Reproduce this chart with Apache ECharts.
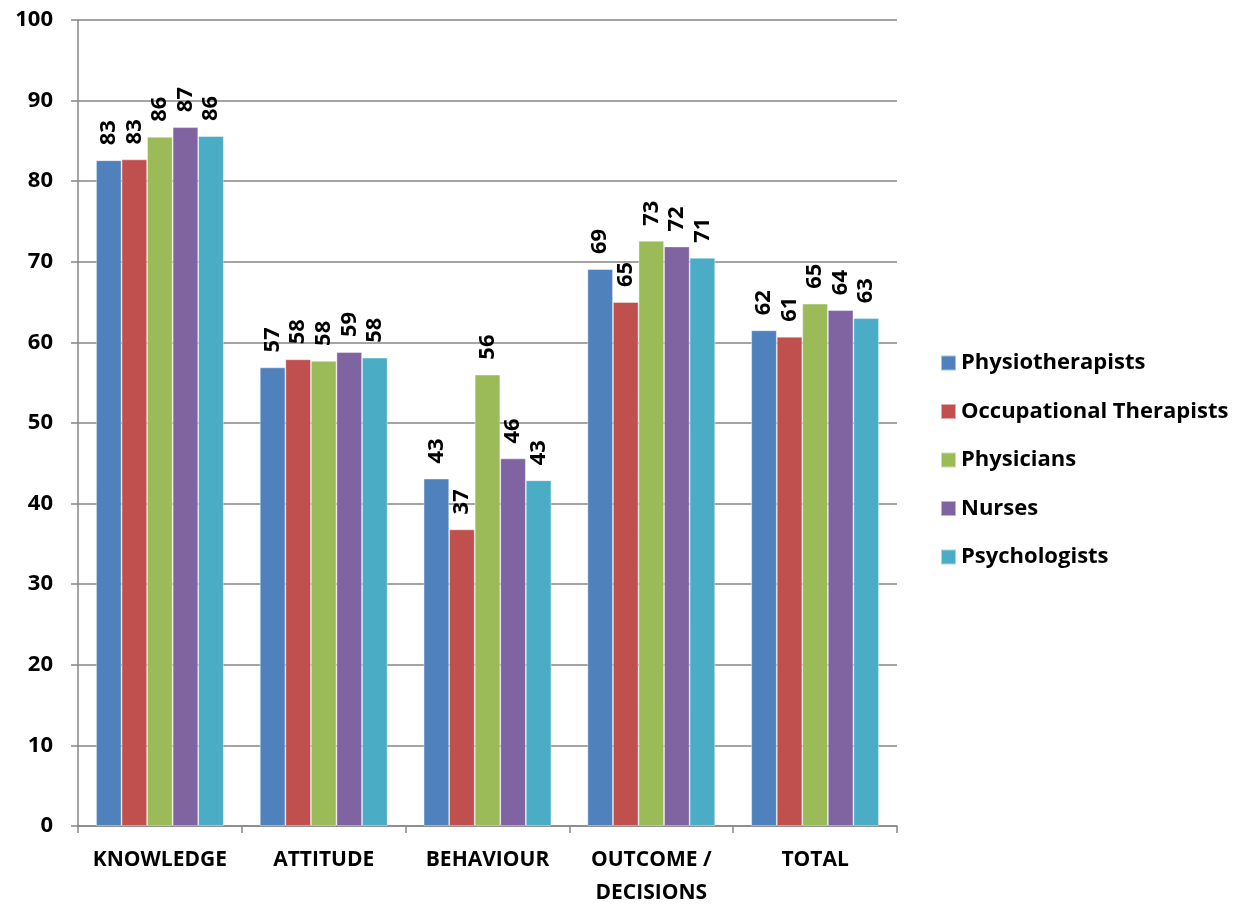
<!DOCTYPE html>
<html>
<head>
<meta charset="utf-8">
<script src="https://cdn.jsdelivr.net/npm/echarts@6/dist/echarts.min.js"></script>
<style>html,body{margin:0;padding:0;background:#fff}#c{width:1233px;height:905px}</style>
</head>
<body>
<div id="c"></div>
<script>
var categories = ['KNOWLEDGE', 'ATTITUDE', 'BEHAVIOUR', 'OUTCOME /\nDECISIONS', 'TOTAL'];
var seriesNames = ['Physiotherapists', 'Occupational Therapists', 'Physicians', 'Nurses', 'Psychologists'];
var physiotherapists = [82.6, 56.9, 43.1, 69.1, 61.5];
var occupationalTherapists = [82.7, 57.9, 36.8, 65.0, 60.7];
var physicians = [85.5, 57.7, 56.0, 72.6, 64.8];
var nurses = [86.7, 58.8, 45.6, 71.9, 64.0];
var psychologists = [85.6, 58.1, 42.9, 70.5, 63.0];
var yTicks = [0, 10, 20, 30, 40, 50, 60, 70, 80, 90, 100];
var colors = ['#4F81BD', '#C0504D', '#9BBB59', '#8064A2', '#4BACC6'];

var allData = [physiotherapists, occupationalTherapists, physicians, nurses, psychologists];
var FONT = 'Open Sans';
var chart = echarts.init(document.getElementById('c'));
chart.setOption({
  animation: false,
  textStyle: { fontFamily: FONT },
  grid: { left: 78, right: 336, top: 20, bottom: 79, containLabel: false, outerBoundsMode: 'none' },
  legend: {
    orient: 'vertical', left: 940, top: 352, padding: 0,
    itemWidth: 15, itemHeight: 15, itemGap: 26.5,
    icon: 'rect',
    textStyle: { fontSize: 22, fontWeight: 'bold', color: '#000', fontFamily: FONT },
    data: seriesNames
  },
  xAxis: {
    type: 'category', data: categories,
    axisLine: { lineStyle: { color: '#868686', width: 1.5 } },
    axisTick: { show: true, length: 7, lineStyle: { color: '#868686', width: 1.5 } },
    axisLabel: { interval: 0, fontSize: 21, fontWeight: 'bold', color: '#000', margin: 18, lineHeight: 33, fontFamily: FONT }
  },
  yAxis: {
    type: 'value', min: yTicks[0], max: yTicks[yTicks.length - 1], interval: 10,
    axisLine: { show: true, lineStyle: { color: '#868686', width: 1.5 } },
    axisTick: { show: true, length: 7, lineStyle: { color: '#868686', width: 1.5 } },
    splitLine: { lineStyle: { color: '#868686', width: 1.5 } },
    axisLabel: { fontSize: 22, fontWeight: 'bold', color: '#000', margin: 25, fontFamily: FONT }
  },
  series: seriesNames.map(function (n, i) {
    return {
      name: n, type: 'bar', data: allData[i],
      barGap: '0%', barCategoryGap: '22%',
      itemStyle: { color: colors[i], borderColor: 'rgba(255,255,255,0.5)', borderWidth: 0.8 },
      label: {
        show: true, position: 'top', rotate: 90, align: 'left', verticalAlign: 'middle',
        distance: 15, fontSize: 22, fontWeight: 'bold', color: '#000', fontFamily: FONT,
        formatter: function (p) { return Math.round(p.value); }
      }
    };
  })
});
</script>
</body>
</html>
